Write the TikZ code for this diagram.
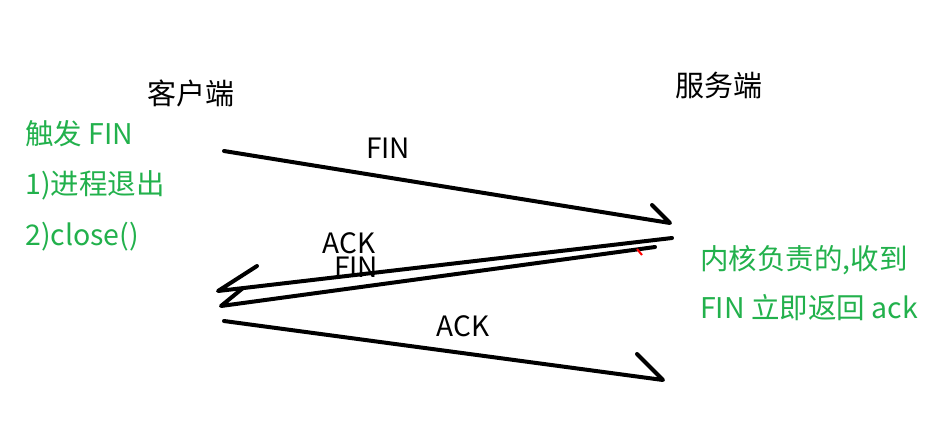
\documentclass[tikz,border=0pt]{standalone}
\usepackage{fontspec}
\setmainfont{Noto Sans CJK SC}
\usepackage{xcolor}
\usepackage{tikz}
\usetikzlibrary{positioning}
\definecolor{notegreen}{RGB}{34,177,76}

\begin{document}
\begin{tikzpicture}[x=1pt,y=-1pt,
        msg/.style={line width=4pt, line cap=round, line join=round},
        side/.style={font=\fontsize{29}{33}\selectfont},
        lbl/.style={font=\fontsize{28}{30}\selectfont, inner sep=0pt},
        note/.style={font=\fontsize{28.5}{32}\selectfont, text=notegreen, anchor=west, inner sep=0pt}]
        \useasboundingbox[fill=white] (0,0) rectangle (941,440);
        % the two ends
        \node[side] (client) at (191,93) {客户端};
        \node[side] (server) at (719,85) {服务端};
        % points of the hand drawn arrows
        \coordinate (fin1s) at (224,151);
        \coordinate (fin1t) at (670,223);
        \coordinate (fin1b) at (652,205);
        \coordinate (acks) at (672,238);
        \coordinate (ackt) at (218,291);
        \coordinate (ackb) at (257,266);
        \coordinate (fin2s) at (655,247);
        \coordinate (fin2t) at (221,306);
        \coordinate (fin2b) at (243,288);
        \coordinate (ack2s) at (224,321);
        \coordinate (ack2t) at (663,380);
        \coordinate (ack2b) at (637,354);
        \draw[msg] (fin1s) -- (fin1t) -- (fin1b);
        \draw[msg] (acks) -- (ackt) -- (ackb);
        \draw[msg] (fin2s) -- (fin2t) -- (fin2b);
        \draw[msg] (ack2s) -- (ack2t) -- (ack2b);
        \draw[red, line width=2pt] (637,249) -- (642,255);
        % labels on the arrows
        \node[lbl] (finlbl) at (388,148) {FIN};
        \node[lbl] (acklbl) at (349,243) {ACK};
        \node[lbl] (fin2lbl) at (356,267) {FIN};
        \node[lbl] (ack2lbl) at (463,326) {ACK};
        % notes
        \node[note] (trig) at (25,134) {触发 FIN};
        \node[note] (exit) at (25,185) {1)进程退出};
        \node[note] (close) at (25,237) {2)close()};
        \node[note] (kern) at (700,260) {内核负责的,收到};
        \node[note] (reply) at (700,308) {FIN 立即返回 ack};
    \end{tikzpicture}
\end{document}
